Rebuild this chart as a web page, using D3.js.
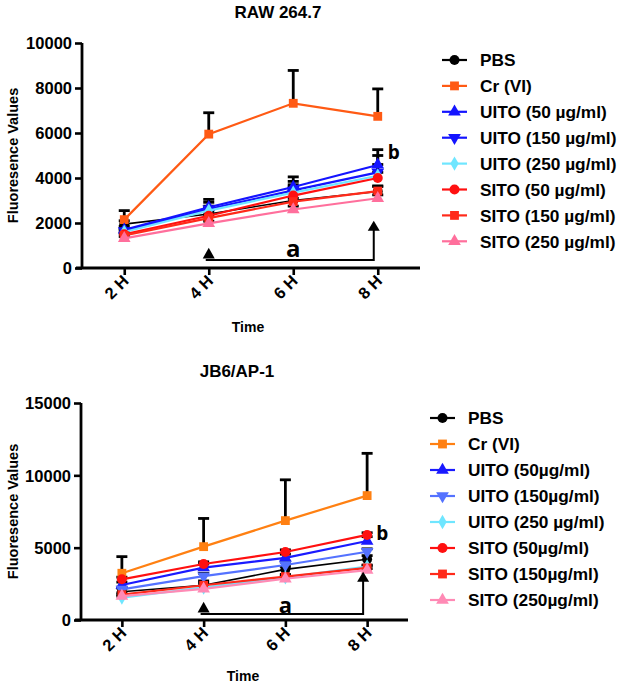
<!DOCTYPE html>
<html><head><meta charset="utf-8">
<script src="https://cdn.jsdelivr.net/npm/d3@7"></script>
<style>
body{margin:0;background:#fff;}
text{font-family:"Liberation Sans",Arial,Helvetica,sans-serif;font-weight:bold;fill:#000;}
</style></head>
<body><svg id="c" width="625" height="687"></svg>
<script>
// ---------- DATA ----------
const timepoints = ["2 H","4 H","6 H","8 H"];

// Chart 1: RAW 264.7
const rawNames = ["PBS","Cr (VI)","UITO (50 \u00b5g/ml)","UITO (150 \u00b5g/ml)","UITO (250 \u00b5g/ml)","SITO (50 \u00b5g/ml)","SITO (150 \u00b5g/ml)","SITO (250 \u00b5g/ml)"];
const rawPBS      = [1950, 2400, 3000, 3400];
const rawCr       = [2150, 5950, 7320, 6740];
const rawUITO50   = [1700, 2700, 3600, 4580];
const rawUITO150  = [1650, 2620, 3450, 4250];
const rawUITO250  = [1600, 2550, 3350, 4100];
const rawSITO50   = [1500, 2320, 3220, 4000];
const rawSITO150  = [1450, 2220, 2950, 3420];
const rawSITO250  = [1320, 1980, 2600, 3100];
const rawErrPBS     = [150, 250, 600, 250];
const rawErrCr      = [400, 950, 1460, 1220];
const rawErrUITO50  = [150, 350, 450, 680];
const rawErrUITO150 = [100, 300, 400, 750];
const rawErrUITO250 = [100, 200, 350, 500];
const rawErrSITO50  = [100, 200, 250, 250];
const rawErrSITO150 = [80, 150, 150, 200];
const rawErrSITO250 = [80, 100, 150, 150];
const rawTicks = [0, 2000, 4000, 6000, 8000, 10000];

// Chart 2: JB6/AP-1
const jbNames = ["PBS","Cr (VI)","UITO (50\u00b5g/ml)","UITO (150\u00b5g/ml)","UITO (250  \u00b5g/ml)","SITO (50\u00b5g/ml)","SITO (150\u00b5g/ml)","SITO (250\u00b5g/ml)"];
const jbPBS      = [1950, 2400, 3500, 4200];
const jbCr       = [3230, 5070, 6870, 8600];
const jbUITO50   = [2420, 3620, 4300, 5460];
const jbUITO150  = [2120, 3030, 3800, 4720];
const jbUITO250  = [1550, 2250, 2950, 3700];
const jbSITO50   = [2810, 3870, 4700, 5880];
const jbSITO150  = [1750, 2400, 3000, 3600];
const jbSITO250  = [1650, 2150, 2850, 3450];
const jbErrPBS     = [250, 300, 200, 250];
const jbErrCr      = [1150, 1950, 2820, 2920];
const jbErrUITO50  = [200, 250, 250, 300];
const jbErrUITO150 = [150, 200, 200, 200];
const jbErrUITO250 = [100, 100, 100, 100];
const jbErrSITO50  = [150, 150, 150, 150];
const jbErrSITO150 = [120, 150, 150, 150];
const jbErrSITO250 = [100, 100, 100, 100];
const jbTicks = [0, 5000, 10000, 15000];

// ---------- STYLES ----------
const shapes = ["circle","square","triangle","triangleDown","diamond","circle","square","triangle"];
const rawColors = ["#000000","#ff5a14","#1414ff","#1414ff","#6fe6ff","#ff1010","#ff2a1a","#ff6f9c"];
const jbColors  = ["#000000","#ff8012","#1a1aff","#5472ff","#6fe6ff","#ff1010","#ff2a1a","#ff8ab5"];

function symPath(shape){
  if(shape==="circle") return d3.symbol(d3.symbolCircle, 78)();
  if(shape==="square") return d3.symbol(d3.symbolSquare, 78)();
  if(shape==="triangle"||shape==="triangleDown") return d3.symbol(d3.symbolTriangle, 70)();
  if(shape==="diamond") return d3.symbol(d3.symbolDiamond, 60)();
}

const svg = d3.select("#c");

function drawChart(o){
  const g = svg.append("g");
  const x = d3.scalePoint().domain(timepoints).range([o.left, o.right]).padding(0.5);
  const y = d3.scaleLinear().domain([0, o.ymax]).range([o.bottom, o.top]);

  // error bars
  o.series.forEach((s,i)=>{
    const pts = s.values.map((v,j)=>({t:timepoints[j], v, e:s.err[j]}));
    const eb = g.append("g").attr("stroke","#000").attr("stroke-width",2.8);
    pts.forEach(p=>{
      const cx = x(p.t);
      eb.append("line").attr("x1",cx).attr("x2",cx).attr("y1",y(p.v)).attr("y2",y(p.v+p.e));
      eb.append("line").attr("x1",cx-5.5).attr("x2",cx+5.5).attr("y1",y(p.v+p.e)).attr("y2",y(p.v+p.e));
    });
  });
  // lines and markers
  o.series.forEach((s,i)=>{
    const pts = s.values.map((v,j)=>({t:timepoints[j], v}));
    g.append("path").datum(pts)
      .attr("fill","none").attr("stroke",o.colors[i]).attr("stroke-width", i===0?1.6:2.2)
      .attr("d", d3.line().x(d=>x(d.t)).y(d=>y(d.v)));
    g.selectAll(null).data(pts).enter().append("path")
      .attr("d", symPath(shapes[i]))
      .attr("fill", o.colors[i])
      .attr("transform", d=>`translate(${x(d.t)},${y(d.v)})` + (shapes[i]==="triangleDown"?" rotate(180)":""));
  });

  // axes
  const ya = g.append("g").attr("transform",`translate(${o.left},0)`)
    .call(d3.axisLeft(y).tickValues(o.ticks).tickSize(7).tickSizeOuter(0).tickPadding(3).tickFormat(d3.format("d")));
  ya.select(".domain").attr("stroke-width",2.8).attr("d",`M0,${o.bottom+1}V${o.top}`);
  ya.selectAll(".tick line").attr("stroke-width",2.6);
  ya.selectAll(".tick text").style("font-size","16.5px").style("font-family","'Liberation Sans',Arial,sans-serif").style("font-weight","bold").attr("dy","0.36em");

  const xa = g.append("g").attr("transform",`translate(0,${o.bottom})`)
    .call(d3.axisBottom(x).tickSize(7).tickSizeOuter(0));
  xa.select(".domain").attr("stroke-width",2.8).attr("d",`M${o.left-6},0H${o.right}`);
  xa.selectAll(".tick line").attr("stroke-width",2.6);
  xa.selectAll(".tick text").style("font-size","16.5px").style("font-family","'Liberation Sans',Arial,sans-serif").style("font-weight","bold")
    .attr("text-anchor","end").attr("dy",null).attr("y",null)
    .attr("transform","translate(5,14) rotate(-45)");

  // titles
  g.append("text").attr("x",o.titleX).attr("y",o.titleY).attr("text-anchor","middle").style("font-size","17px").text(o.title);
  g.append("text").attr("x",o.timeX).attr("y",o.timeY).attr("text-anchor","middle").style("font-size","14px").text("Time");
  g.append("text").attr("transform",`translate(18,${(o.top+o.bottom)/2}) rotate(-90)`).attr("text-anchor","middle").style("font-size","14.5px").text("Fluoresence Values");

  // annotation a
  const xa4 = x(timepoints[1]), xa8 = x(timepoints[3]) - 4;
  const yl = y(o.annLine);
  g.append("path").attr("fill","none").attr("stroke","#000").attr("stroke-width",2)
    .attr("d",`M${xa4-3},${yl}H${xa8}V${y(o.annTip8)+8}`);
  g.append("path").attr("fill","#000").attr("d",`M${xa4},${y(o.annTip4)}L${xa4+6},${yl-1.5}L${xa4-6},${yl-1.5}Z`);
  g.append("path").attr("fill","#000").attr("d",`M${xa8},${y(o.annTip8)}L${xa8+6},${y(o.annTip8)+10}L${xa8-6},${y(o.annTip8)+10}Z`);
  g.append("text").attr("x",x(timepoints[2])).attr("y",o.aY).attr("text-anchor","middle")
    .style("font-family","'Open Sans',sans-serif").style("font-size",o.aSize+"px").text("a");
  g.append("text").attr("x",x(timepoints[3])+o.bDx).attr("y",o.bY)
    .style("font-family","'Open Sans',sans-serif").style("font-size","19px").text("b");

  // legend
  const lg = g.append("g");
  o.names.forEach((n,i)=>{
    const ly = o.legY + i*o.legStep;
    lg.append("line").attr("x1",o.legX).attr("x2",o.legX+25).attr("y1",ly).attr("y2",ly).attr("stroke",o.colors[i]).attr("stroke-width",2.2);
    lg.append("path").attr("d",symPath(shapes[i])).attr("fill",o.colors[i])
      .attr("transform",`translate(${o.legX+12.5},${ly})`+(shapes[i]==="triangleDown"?" rotate(180)":""));
    lg.append("text").attr("x",o.legX+38).attr("y",ly).attr("dy","0.36em").style("font-size","17.3px").text(n);
  });
}

const mk = (vals, errs) => vals.map((v,i)=>({values:v, err:errs[i]}));

drawChart({
  left:82, right:420, top:43, bottom:268, ymax:10000, ticks:rawTicks,
  series: mk([rawPBS,rawCr,rawUITO50,rawUITO150,rawUITO250,rawSITO50,rawSITO150,rawSITO250],
             [rawErrPBS,rawErrCr,rawErrUITO50,rawErrUITO150,rawErrUITO250,rawErrSITO50,rawErrSITO150,rawErrSITO250]),
  colors: rawColors, names: rawNames,
  title:"RAW 264.7", titleX:278, titleY:18, timeX:248, timeY:332,
  annLine:360, annTip4:900, annTip8:2100, aY:257, aSize:24, bY:159, bDx:10,
  legX:442, legY:60, legStep:25.9
});

drawChart({
  left:81, right:408, top:403, bottom:620, ymax:15000, ticks:jbTicks,
  series: mk([jbPBS,jbCr,jbUITO50,jbUITO150,jbUITO250,jbSITO50,jbSITO150,jbSITO250],
             [jbErrPBS,jbErrCr,jbErrUITO50,jbErrUITO150,jbErrUITO250,jbErrSITO50,jbErrSITO150,jbErrSITO250]),
  colors: jbColors, names: jbNames,
  title:"JB6/AP-1", titleX:237, titleY:377, timeX:243, timeY:681,
  annLine:415, annTip4:1265, annTip8:3340, aY:613, aSize:22, bY:540, bDx:9,
  legX:430, legY:418, legStep:26
});
</script>
</body></html>
